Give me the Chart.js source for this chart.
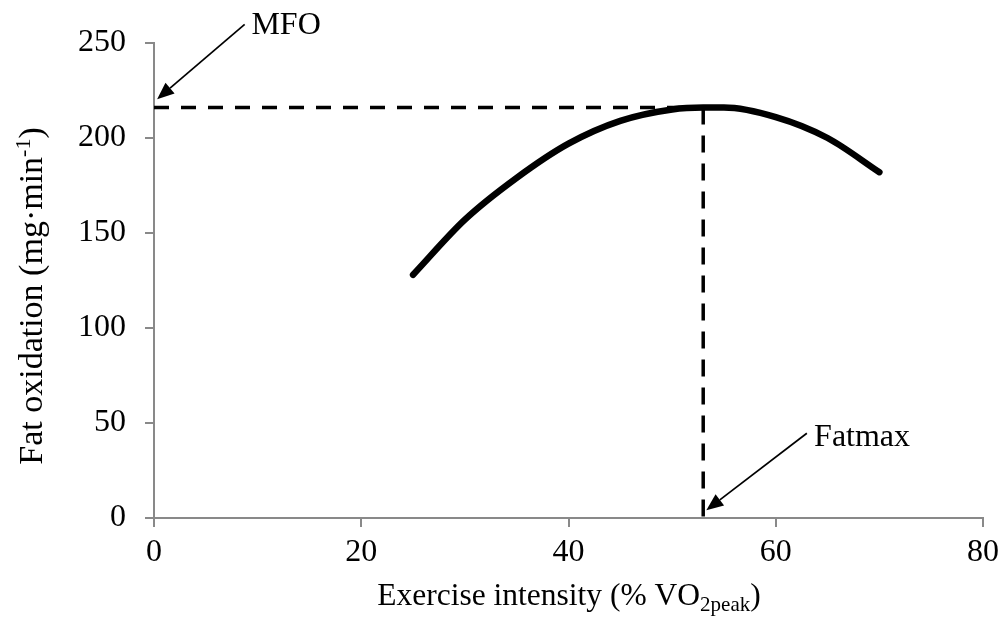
<!DOCTYPE html>
<html>
<head>
<meta charset="utf-8">
<script src="https://cdn.jsdelivr.net/npm/chart.js@4/dist/chart.umd.min.js"></script>
<style>
  html, body { margin: 0; padding: 0; background: #fff; }
  #wrap { width: 1005px; height: 624px; position: relative; }
</style>
</head>
<body>
<div id="wrap"><canvas id="c" width="1005" height="624"></canvas></div>
<script>
// ---- data ----
const intensity = [25, 30, 35, 40, 45, 50, 53, 55, 60, 65, 70];
const fatOxidation = [128, 157, 179, 197, 209, 215, 216, 216, 211, 200, 182];
const mfoValue = 216;
const fatmaxValue = 53;
const xTicks = [0, 20, 40, 60, 80];
const yTicks = [0, 50, 100, 150, 200, 250];

const FONT = "'Liberation Serif', 'Times New Roman', serif";
const AXIS_COLOR = '#898989';

const curve = intensity.map((x, i) => ({ x: x, y: fatOxidation[i] }));
const hLine = [{ x: 0, y: mfoValue }, { x: fatmaxValue, y: mfoValue }];
const vLine = [{ x: fatmaxValue, y: mfoValue }, { x: fatmaxValue, y: 0 }];

// annotations (arrow tail/tip and label anchor in data units)
const annotations = [
  { text: 'MFO', label: { x: 9.4, y: 259 }, from: { x: 8.75, y: 259.8 }, to: { x: 0.3, y: 220.4 } },
  { text: 'Fatmax', label: { x: 63.7, y: 42.4 }, from: { x: 63.0, y: 44.6 }, to: { x: 53.3, y: 4.1 } }
];

function drawRich(ctx, parts, x, y, align) {
  // parts: [text, size, dy]
  let total = 0;
  parts.forEach(p => { ctx.font = p[1] + 'px ' + FONT; total += ctx.measureText(p[0]).width; });
  let cx = align === 'center' ? x - total / 2 : x;
  ctx.textAlign = 'left';
  ctx.textBaseline = 'alphabetic';
  parts.forEach(p => {
    ctx.font = p[1] + 'px ' + FONT;
    ctx.fillText(p[0], cx, y + p[2]);
    cx += ctx.measureText(p[0]).width;
  });
}

const decorPlugin = {
  id: 'decor',
  afterDraw(chart) {
    const ctx = chart.ctx;
    const xs = chart.scales.x, ys = chart.scales.y;
    ctx.save();
    ctx.fillStyle = '#000';
    // x title
    drawRich(ctx, [['Exercise intensity (% VO', 31.5, 0], ['2peak', 21, 6], [')', 31.5, 0]], 569, 605, 'center');
    // y title (rotated)
    ctx.save();
    ctx.translate(42, 296);
    ctx.rotate(-Math.PI / 2);
    drawRich(ctx, [['Fat oxidation (mg\u00B7min', 34, 0], ['-1', 22, -12], [')', 34, 0]], 0, 0, 'center');
    ctx.restore();

    // annotations
    annotations.forEach(a => {
      const fx = xs.getPixelForValue(a.from.x), fy = ys.getPixelForValue(a.from.y);
      const tx = xs.getPixelForValue(a.to.x), ty = ys.getPixelForValue(a.to.y);
      const ang = Math.atan2(ty - fy, tx - fx);
      const headLen = 17, headW = 7;
      const bx = tx - headLen * Math.cos(ang), by = ty - headLen * Math.sin(ang);
      ctx.strokeStyle = '#000';
      ctx.lineWidth = 1.7;
      ctx.beginPath();
      ctx.moveTo(fx, fy);
      ctx.lineTo(bx, by);
      ctx.stroke();
      ctx.beginPath();
      ctx.moveTo(tx, ty);
      ctx.lineTo(bx + headW * Math.sin(ang), by - headW * Math.cos(ang));
      ctx.lineTo(bx - headW * Math.sin(ang), by + headW * Math.cos(ang));
      ctx.closePath();
      ctx.fill();
      ctx.font = '32px ' + FONT;
      ctx.textAlign = 'left';
      ctx.textBaseline = 'middle';
      ctx.fillText(a.text, xs.getPixelForValue(a.label.x), ys.getPixelForValue(a.label.y));
    });
    ctx.restore();
  }
};

new Chart(document.getElementById('c'), {
  type: 'scatter',
  data: {
    datasets: [
      { data: hLine, showLine: true, borderColor: '#000', borderWidth: 3.5, borderDash: [15, 12], pointRadius: 0, fill: false },
      { data: vLine, showLine: true, borderColor: '#000', borderWidth: 3.5, borderDash: [17, 11], pointRadius: 0, fill: false },
      { data: curve, showLine: true, borderColor: '#000', borderWidth: 6.5, borderCapStyle: 'round', borderJoinStyle: 'round',
        cubicInterpolationMode: 'monotone', pointRadius: 0, fill: false }
    ]
  },
  options: {
    responsive: false,
    animation: false,
    devicePixelRatio: 1,
    layout: { padding: { left: 0, top: 43, right: 18, bottom: 0 } },
    plugins: { legend: { display: false }, tooltip: { enabled: false } },
    scales: {
      x: {
        type: 'linear', min: 0, max: 80,
        afterBuildTicks: s => { s.ticks = xTicks.map(v => ({ value: v })); },
        afterFit: s => { s.height = 106; },
        border: { display: true, color: AXIS_COLOR, width: 2 },
        grid: { display: true, drawOnChartArea: false, drawTicks: true, tickLength: 9, color: AXIS_COLOR, lineWidth: 2 },
        ticks: { color: '#000', font: { family: FONT, size: 32 }, padding: 6, maxRotation: 0 }
      },
      y: {
        type: 'linear', min: 0, max: 250,
        afterBuildTicks: s => { s.ticks = yTicks.map(v => ({ value: v })); },
        afterFit: s => { s.width = 154; },
        border: { display: true, color: AXIS_COLOR, width: 2 },
        grid: { display: true, drawOnChartArea: false, drawTicks: true, tickLength: 9, color: AXIS_COLOR, lineWidth: 2 },
        ticks: { color: '#000', font: { family: FONT, size: 32 }, padding: 19 }
      }
    }
  },
  plugins: [decorPlugin]
});
</script>
</body>
</html>
